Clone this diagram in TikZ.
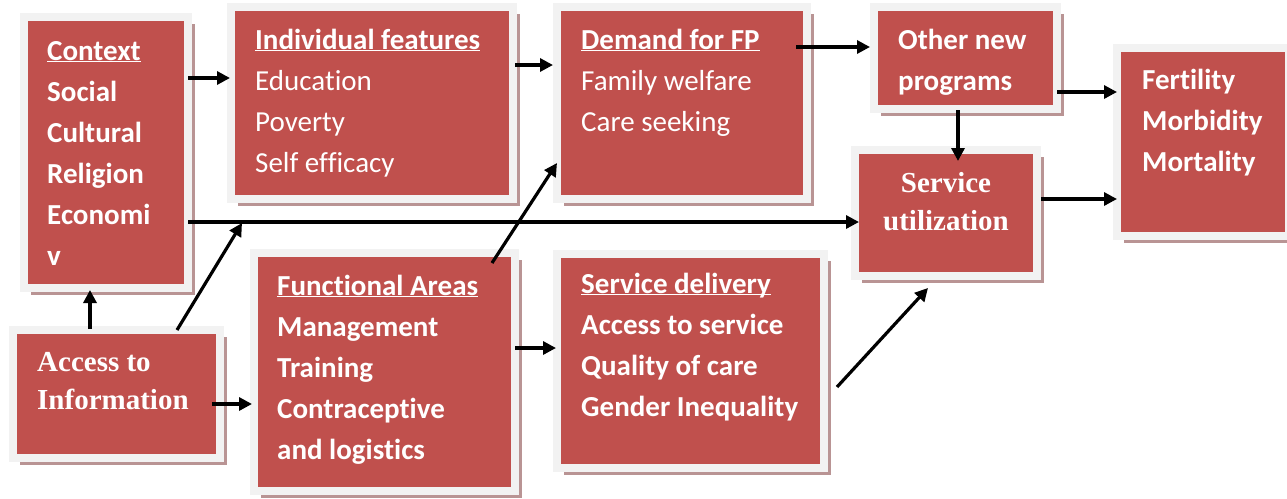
\documentclass[tikz,border=0pt]{standalone}
\usepackage{fontspec}
\setmainfont[Ligatures={NoCommon,NoRequired,NoContextual}, Contextuals=NoAlternate]{Carlito}
\newfontfamily\timesfont{Liberation Serif}
\usetikzlibrary{arrows.meta,shadows}

\definecolor{boxred}{HTML}{C0504D}
\definecolor{boxrim}{HTML}{F2F2F2}
\definecolor{boxshade}{RGB}{185,148,148}

% underlined heading, rule kept close to the baseline
\newcommand{\hd}[1]{\underline{\smash{#1}}}

\begin{document}
\begin{tikzpicture}[x=1pt, y=-1pt,
  frame/.style={draw=boxrim, fill=boxred, line width=8pt, outer sep=4pt, inner sep=0pt, anchor=north west,
    drop shadow={shadow xshift=7pt, shadow yshift=-7pt, fill=boxshade, opacity=1}},
  txt/.style={text=white, anchor=north west, align=left, inner sep=0pt, font=\fontsize{29}{41}\selectfont},
  txtb/.style={txt, font=\bfseries\fontsize{29}{41}\selectfont},
  ttl/.style={text=white, anchor=north, align=center, inner sep=0pt, font=\timesfont\bfseries\fontsize{29}{38}\selectfont},
  arr/.style={-{Triangle[length=13pt, width=13pt]}, line width=3.2pt}]
  \useasboundingbox (0,0) rectangle (1287,498);

  % ---------------- boxes
  \node[frame, minimum width=164pt, minimum height=271pt] (ctx) at (20,13) {};
  \node[frame, minimum width=207pt, minimum height=128pt] (acc) at (9,326) {};
  \node[frame, minimum width=282pt, minimum height=192pt] (ind) at (227,3) {};
  \node[frame, minimum width=261pt, minimum height=238pt] (fun) at (250,249) {};
  \node[frame, minimum width=250pt, minimum height=192pt] (dem) at (553,3) {};
  \node[frame, minimum width=267pt, minimum height=214pt] (sdl) at (553,250) {};
  \node[frame, minimum width=183pt, minimum height=102pt] (oth) at (870,3) {};
  \node[frame, minimum width=182pt, minimum height=126pt] (sut) at (851,146) {};
  \node[frame, minimum width=172pt, minimum height=188pt] (fer) at (1113,44) {};

  % ---------------- texts (first line carries a strut, so the top is fixed)
  \node[txtb] (ctxT) at ([xshift=27pt, yshift=-18.3pt]ctx.north west) {\strut\hd{Context}\\Social\\Cultural\\Religion\\Economi\\v};
  \node[ttl, anchor=north west, align=left] (accT) at ([xshift=28pt, yshift=-18.4pt]acc.north west) {\strut Access to\\Information};
  \node[txt] (indT) at ([xshift=28pt, yshift=-17.3pt]ind.north west) {\strut\textbf{\hd{Individual features}}\\Education\\Poverty\\Self efficacy};
  \node[txtb] (funT) at ([xshift=27pt, yshift=-17.3pt]fun.north west) {\strut\hd{Functional Areas}\\Management\\Training\\Contraceptive\\and logistics};
  \node[txt] (demT) at ([xshift=28pt, yshift=-17.3pt]dem.north west) {\strut\textbf{\hd{Demand for FP}}\\Family welfare\\Care seeking};
  \node[txtb] (sdlT) at ([xshift=28pt, yshift=-14.3pt]sdl.north west) {\strut\hd{Service delivery}\\Access to service\\Quality of care\\Gender Inequality};
  \node[txtb] (othT) at ([xshift=28pt, yshift=-17.3pt]oth.north west) {\strut Other new\\programs};
  \node[ttl] (sutT) at ([yshift=-19.4pt]sut.north) {\strut Service\\utilization};
  \node[txtb] (ferT) at ([xshift=29pt, yshift=-16.3pt]fer.north west) {\strut Fertility\\Morbidity\\Mortality};

  % ---------------- arrows
  \draw[arr] ([xshift=-4pt, yshift=-65pt]ctx.north east) -- ([xshift=3pt, yshift=-75pt]ind.north west);
  \draw[arr] ([xshift=-4pt, yshift=-209pt]ctx.north east) -- ([xshift=8pt, yshift=-76pt]sut.north west);
  \draw[arr] ([xshift=81pt, yshift=-3pt]acc.north west) -- ([xshift=70pt, yshift=2pt]ctx.south west);
  \draw[arr] ([xshift=168pt, yshift=-4pt]acc.north west) -- ([xshift=15pt, yshift=-20pt]ind.south west);
  \draw[arr] ([xshift=-12pt, yshift=-10pt]acc.east) -- ([xshift=2pt, yshift=-155pt]fun.north west);
  \draw[arr] ([xshift=-2pt, yshift=-62pt]ind.north east) -- ([yshift=-62pt]dem.north west);
  \draw[arr] ([xshift=-27pt, yshift=-14pt]fun.north east) -- ([xshift=4pt, yshift=40pt]dem.south west);
  \draw[arr] ([xshift=-4pt, yshift=-99pt]fun.north east) -- ([xshift=3pt, yshift=-98pt]sdl.north west);
  \draw[arr] ([xshift=-15pt, yshift=-44pt]dem.north east) -- ([yshift=-44pt]oth.north west);
  \draw[arr] ([xshift=9pt, yshift=-137pt]sdl.north east) -- ([xshift=77pt, yshift=-8pt]sut.south west);
  \draw[arr] ([xshift=88pt, yshift=3pt]oth.south west) -- ([xshift=107pt, yshift=-15pt]sut.north west);
  \draw[arr] ([xshift=-4pt, yshift=21pt]oth.south east) -- ([xshift=4pt, yshift=-48pt]fer.north west);
  \draw[arr] ([yshift=-53pt]sut.north east) -- ([xshift=4pt, yshift=-155pt]fer.north west);
\end{tikzpicture}
\end{document}
